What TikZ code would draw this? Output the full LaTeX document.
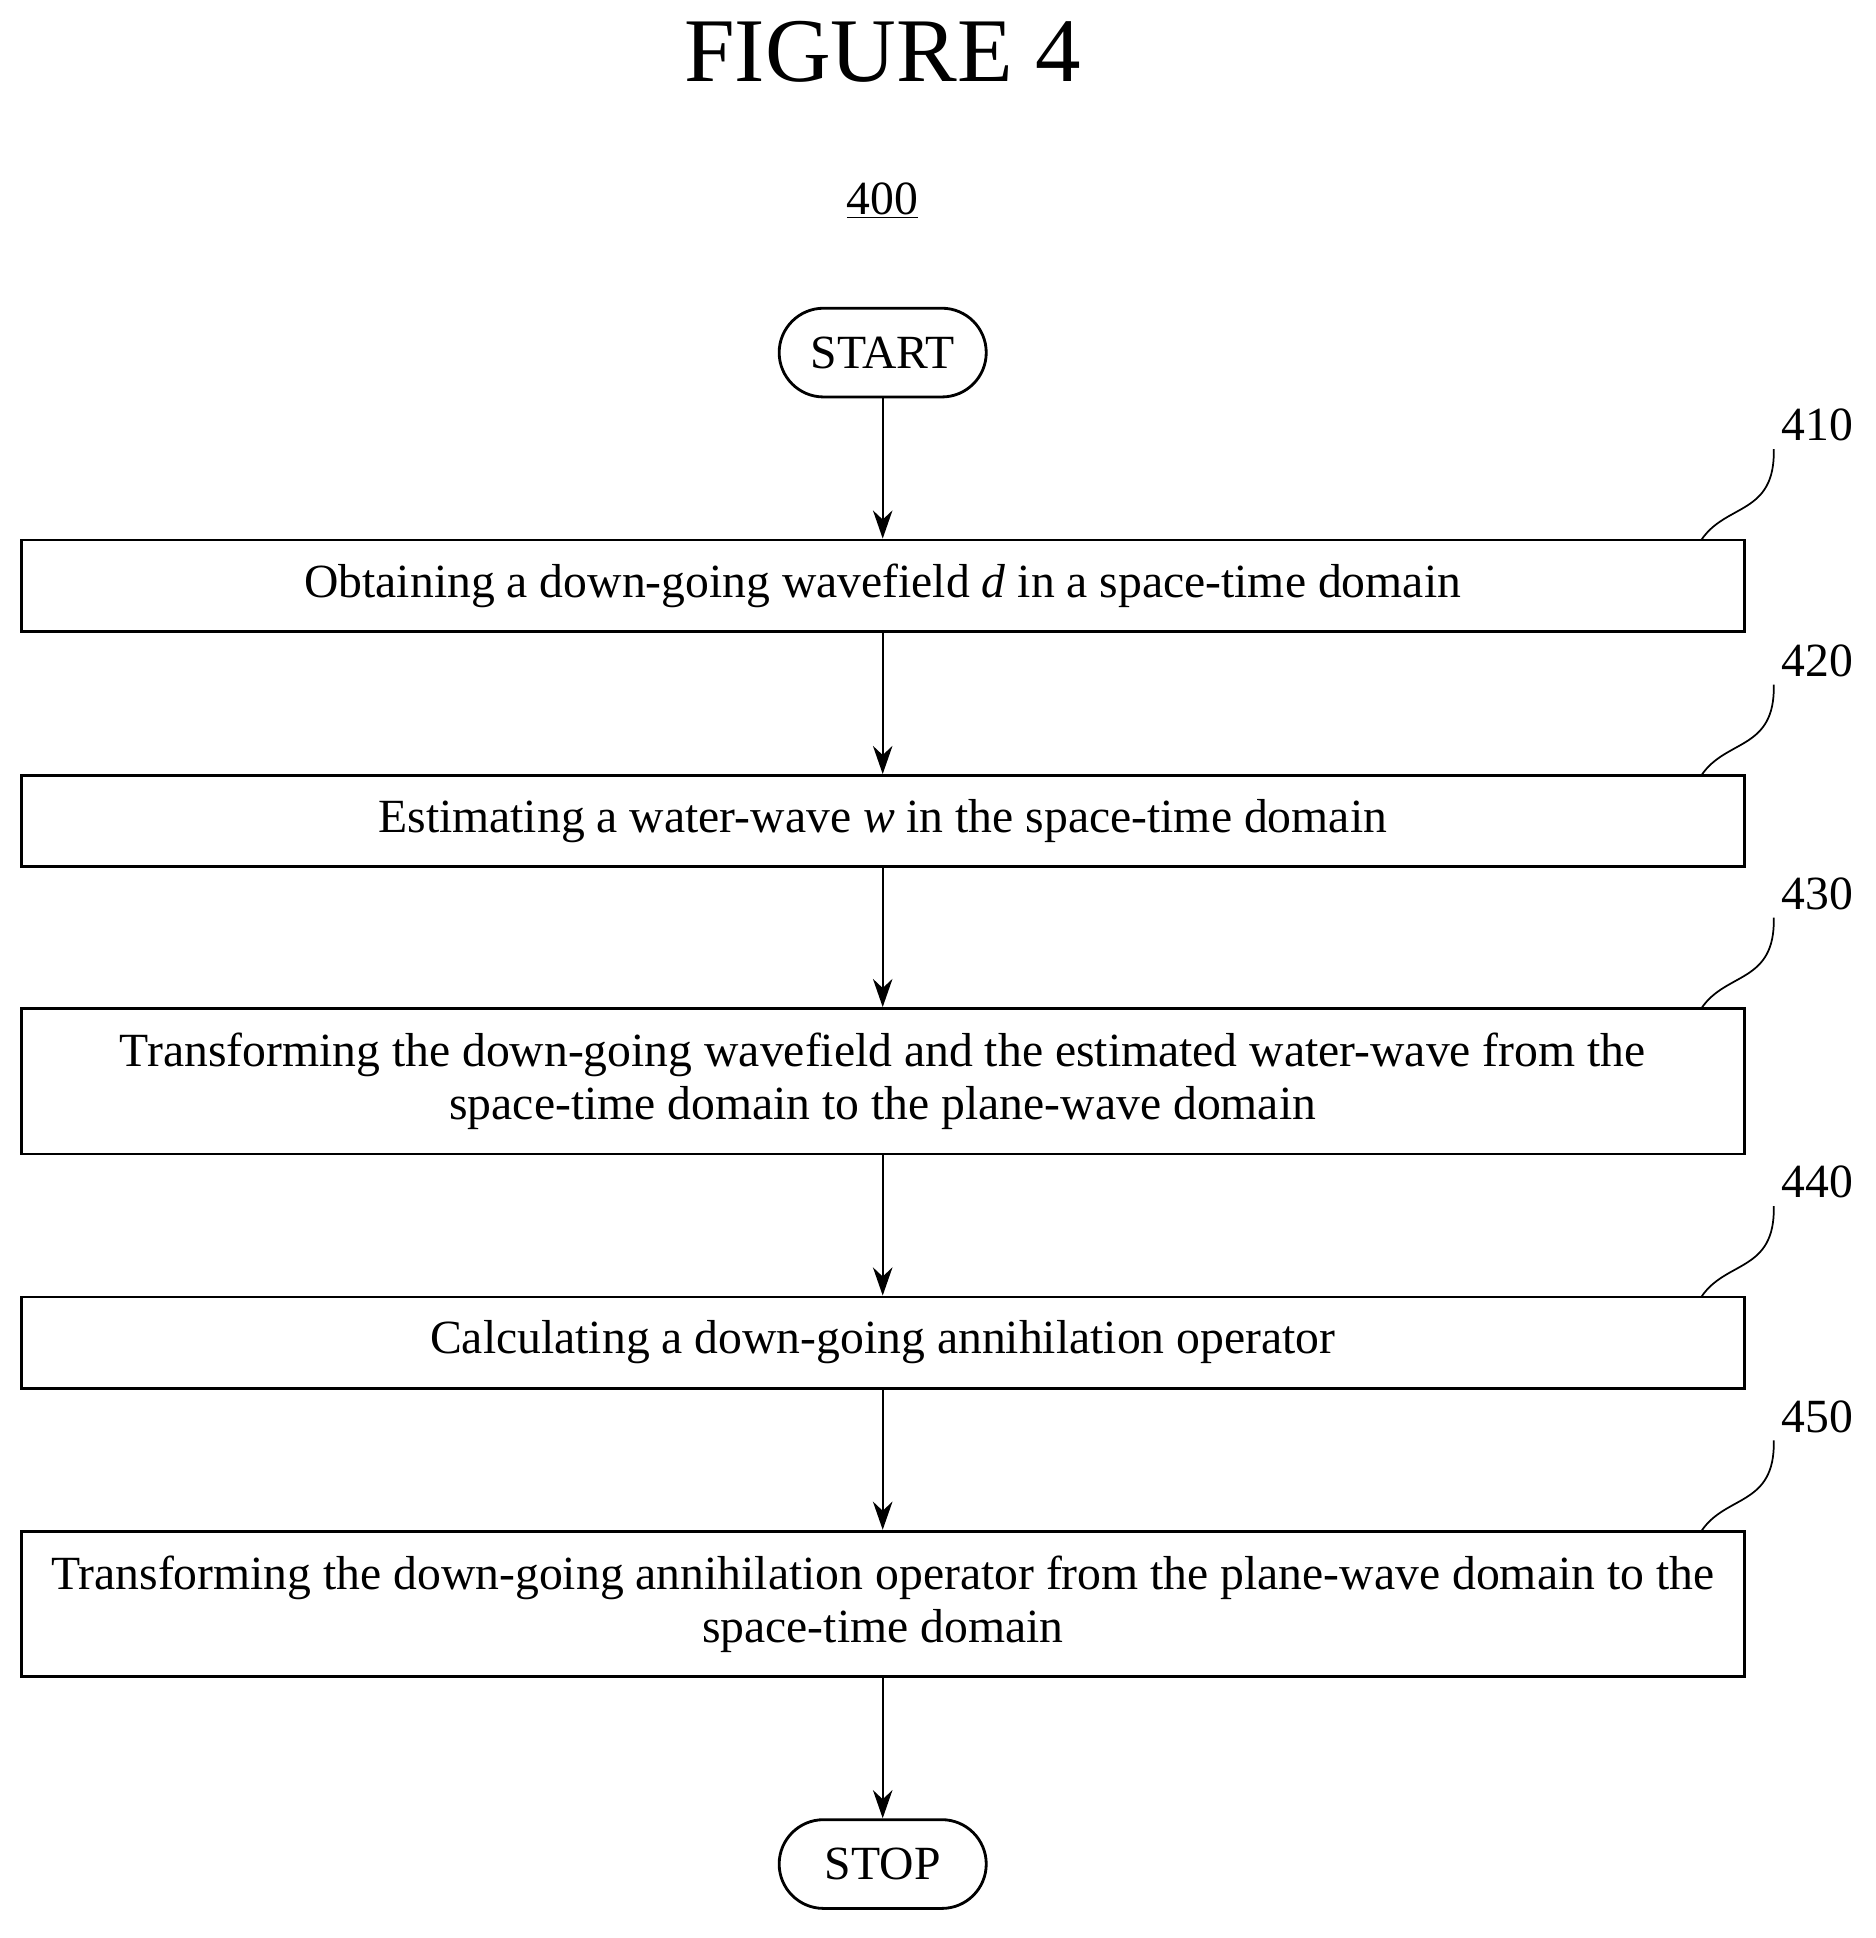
\documentclass[tikz,border=0pt]{standalone}
\usepackage{fontspec}
\setmainfont{Liberation Serif}
\usetikzlibrary{arrows.meta}
\begin{document}
\begin{tikzpicture}[x=0.02cm,y=-0.02cm,
  box/.style={draw,line width=1.3pt,minimum width=27.96cm,align=center,inner sep=0pt,font=\fontsize{22}{24.5}\selectfont},
  term/.style={draw,line width=1.3pt,rounded corners=0.72cm,minimum width=3.36cm,minimum height=1.44cm,font=\fontsize{22}{24}\selectfont},
  arr/.style={line width=1pt,-{Stealth[length=13pt,width=9pt]}},
  lbl/.style={font=\fontsize{22}{24}\selectfont},
  lead/.style={line width=0.8pt}]
\useasboundingbox (0,0) rectangle (1521,1572);
\node[font=\fontsize{42}{46}\selectfont] (title) at (716,42) {FIGURE 4};
\node[lbl] (n400) at (716,163) {\underline{400}};
\node[term] (start) at (716,286) {START};
\node[box,minimum height=1.48cm] (b410) at (716,475) {Obtaining a down-going wavefield \textit{d} in a space-time domain};
\node[box,minimum height=1.48cm] (b420) at (716,666) {Estimating a water-wave \textit{w} in the space-time domain};
\node[box,minimum height=2.36cm] (b430) at (716,877) {Transforming the down-going wavefield and the estimated water-wave from the\\space-time domain to the plane-wave domain};
\node[box,minimum height=1.48cm] (b440) at (716,1089) {Calculating a down-going annihilation operator};
\node[box,minimum height=2.36cm] (b450) at (716,1301) {Transforming the down-going annihilation operator from the plane-wave domain to the\\space-time domain};
\node[term] (stop) at (716,1512) {STOP};
\draw[arr] (start) -- (b410);
\draw[arr] (b410) -- (b420);
\draw[arr] (b420) -- (b430);
\draw[arr] (b430) -- (b440);
\draw[arr] (b440) -- (b450);
\draw[arr] (b450) -- (stop);
\foreach \n/\y in {410/438,420/629,430/818,440/1052,450/1242}{
  \node[lbl] (l\n) at (1474,\y-93) {\n};
  \coordinate (c\n) at (1380,\y);
  \draw[lead] (c\n) .. controls (1400,\y-30) and (1440,\y-20) .. (l\n.south west);
}
\end{tikzpicture}
\end{document}
